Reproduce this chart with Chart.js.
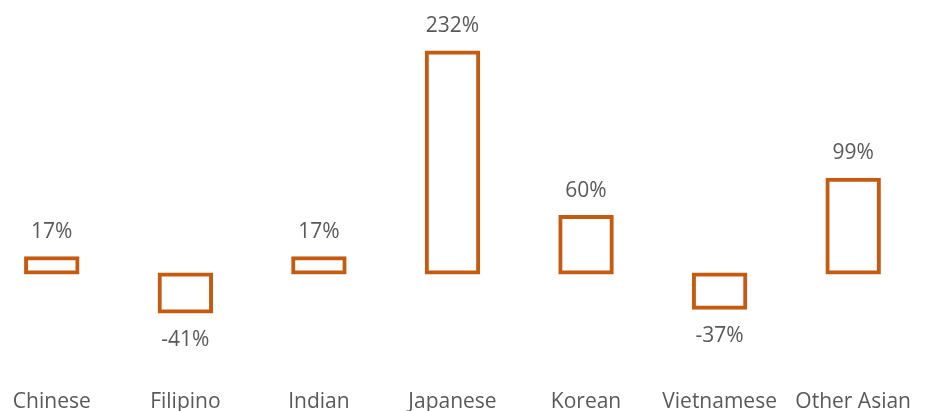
<!DOCTYPE html>
<html>
<head>
<meta charset="utf-8">
<script src="https://cdn.jsdelivr.net/npm/chart.js@4/dist/chart.umd.min.js"></script>
<style>
  html, body { margin: 0; padding: 0; background: #fff; overflow: hidden; width: 930px; height: 411px; }
  #wrap { position: absolute; left: -15px; top: 0; width: 938px; height: 430px; }
</style>
</head>
<body>
<div id="wrap"><canvas id="chart"></canvas></div>
<script>
/* ── Data ── */
const categories = ['Chinese', 'Filipino', 'Indian', 'Japanese', 'Korean', 'Vietnamese', 'Other Asian'];
const changePct  = [17, -41, 17, 232, 60, -37, 99];

const ORANGE = '#c55a11';
const LABEL  = '#595959';
const FONT   = "'Open Sans', sans-serif";

/* value labels above / below each bar */
const valueLabels = {
  id: 'valueLabels',
  afterDatasetsDraw(chart) {
    const ctx = chart.ctx;
    const meta = chart.getDatasetMeta(0);
    ctx.save();
    ctx.fillStyle = LABEL;
    ctx.font = '21px ' + FONT;
    ctx.textAlign = 'center';
    meta.data.forEach((bar, i) => {
      const v = changePct[i];
      if (v >= 0) {
        ctx.textBaseline = 'bottom';
        ctx.fillText(v + '%', bar.x, bar.y - 15);
      } else {
        ctx.textBaseline = 'top';
        ctx.fillText(v + '%', bar.x, bar.y + 17);
      }
    });
    ctx.restore();
  },
};

new Chart(document.getElementById('chart').getContext('2d'), {
  type: 'bar',
  data: {
    labels: categories,
    datasets: [{
      data: changePct,
      backgroundColor: 'rgba(255,255,255,0)',
      borderColor: ORANGE,
      borderWidth: 2,
      borderSkipped: false,
      inflateAmount: 1,   // hollow box: border ends up ~4px, straddling the bar edge
      barPercentage: 0.4,
      categoryPercentage: 1,
    }],
  },
  options: {
    responsive: true,
    maintainAspectRatio: false,
    animation: false,
    layout: { padding: 0 },
    plugins: {
      legend: { display: false },
      tooltip: { enabled: false },
    },
    scales: {
      x: {
        grid: { display: false },
        border: { display: false },
        ticks: { color: LABEL, font: { family: FONT, size: 21 }, padding: 12, maxRotation: 0, autoSkip: false },
        afterFit(scale) { scale.height = 61; },
      },
      y: {
        display: false,
        min: -100,
        max: 286,
      },
    },
  },
  plugins: [valueLabels],
});
</script>
</body>
</html>
